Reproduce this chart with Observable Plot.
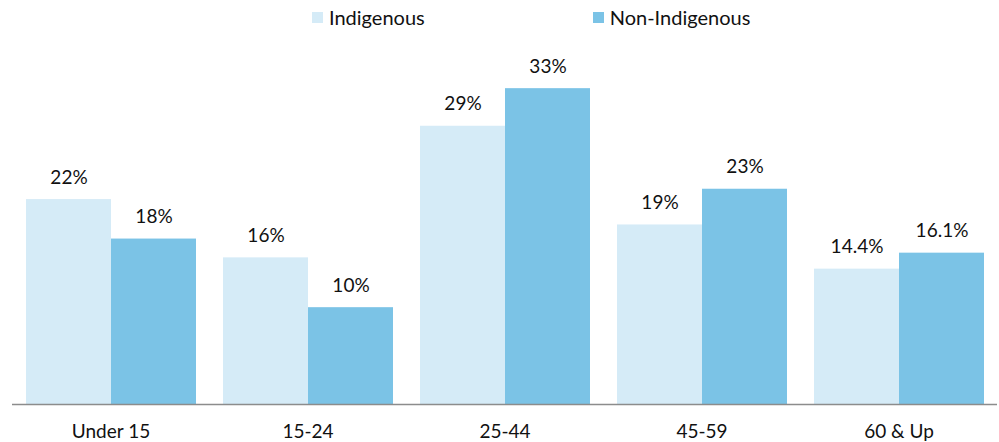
<!DOCTYPE html>
<html>
<head>
<meta charset="utf-8">
<script src="https://cdn.jsdelivr.net/npm/d3@7"></script>
<script src="https://cdn.jsdelivr.net/npm/@observablehq/plot@0.6"></script>
<style>
  html, body { margin: 0; padding: 0; background: #fff; }
  #wrap { position: relative; width: 999px; height: 442px; font-family: Lato, "Open Sans", sans-serif; color: #111; }
  #legend { position: absolute; top: 6px; left: 312px; display: flex; gap: 0; font-size: 20px; line-height: 22px; }
  #legend .item { display: flex; align-items: center; }
  #legend .sw { width: 11px; height: 11px; margin-right: 6px; }
  #chart svg { display: block; }
</style>
</head>
<body>
<div id="wrap">
  <div id="chart"></div>
  <div id="legend"></div>
</div>
<script>
const categories = ["Under 15", "15-24", "25-44", "45-59", "60 & Up"];
const series = ["Indigenous", "Non-Indigenous"];
const indigenous = [21.8, 15.6, 29.6, 19.1, 14.4];
const nonIndigenous = [17.6, 10.3, 33.6, 22.9, 16.1];
const indigenousLabels = ["22%", "16%", "29%", "19%", "14.4%"];
const nonIndigenousLabels = ["18%", "10%", "33%", "23%", "16.1%"];
const colors = ["#D5EBF7", "#7BC3E6"];

const data = [];
categories.forEach((c, i) => {
  data.push({cat: c, series: series[0], value: indigenous[i], label: indigenousLabels[i]});
  data.push({cat: c, series: series[1], value: nonIndigenous[i], label: nonIndigenousLabels[i]});
});

const chart = Plot.plot({
  width: 999,
  height: 442,
  marginLeft: 11,
  marginRight: 0,
  marginTop: 28,
  marginBottom: 38,
  style: {fontFamily: "Lato, 'Open Sans', sans-serif", fontSize: "19px", color: "#111", background: "transparent"},
  fx: {domain: categories, paddingInner: 0.13, paddingOuter: 0.065, label: null, axis: "bottom", tickSize: 0, tickPadding: 20},
  x: {domain: series, axis: null, padding: 0},
  y: {domain: [0, 40], axis: null},
  color: {domain: series, range: colors},
  marks: [
    Plot.barY(data, {fx: "cat", x: "series", y: "value", fill: "series"}),
    Plot.text(data, {fx: "cat", x: "series", y: "value", text: "label", dy: -22, fill: "#111", fontSize: 19}),
    Plot.ruleY([0], {stroke: "#8c8c8c", strokeWidth: 1.5, insetLeft: -13, insetRight: -13})
  ]
});
document.getElementById("chart").appendChild(chart);

const legend = document.getElementById("legend");
series.forEach((s, i) => {
  const item = document.createElement("div");
  item.className = "item";
  if (i > 0) item.style.marginLeft = "168px";
  const sw = document.createElement("span");
  sw.className = "sw";
  sw.style.background = colors[i];
  const t = document.createElement("span");
  t.textContent = s;
  item.appendChild(sw);
  item.appendChild(t);
  legend.appendChild(item);
});
</script>
</body>
</html>
